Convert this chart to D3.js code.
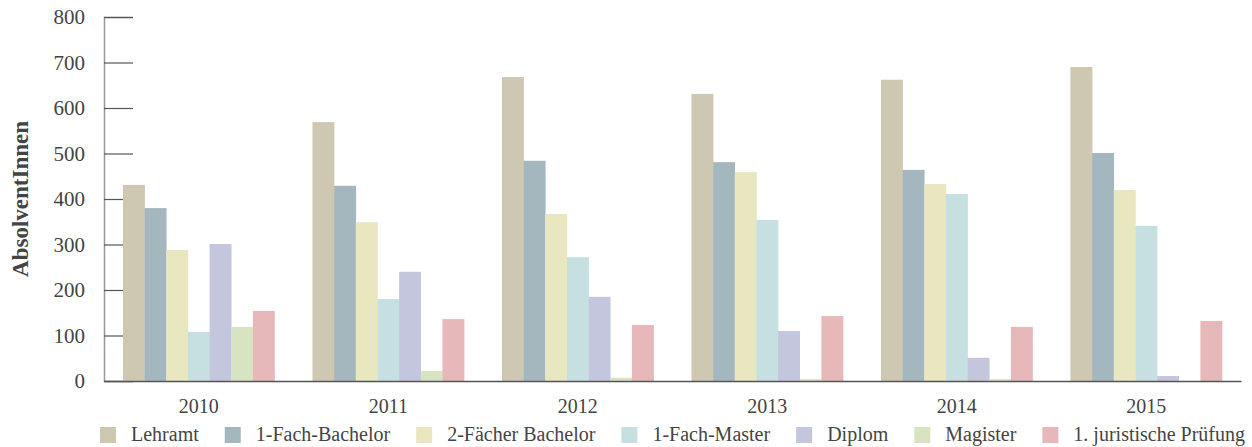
<!DOCTYPE html>
<html>
<head>
<meta charset="utf-8">
<script src="https://cdn.jsdelivr.net/npm/d3@7"></script>
<style>
  body { margin: 0; background: #fff; }
  svg { display: block; font-family: "Liberation Serif", "DejaVu Serif", serif; }
</style>
</head>
<body>
<script>
var width = 1252;
var height = 447;

var years = ['2010', '2011', '2012', '2013', '2014', '2015'];
var seriesNames = ['Lehramt', '1-Fach-Bachelor', '2-Fächer Bachelor', '1-Fach-Master', 'Diplom', 'Magister', '1. juristische Prüfung'];
var seriesColors = ['#cec8b2', '#a4b7be', '#e9e7bf', '#c6e0e2', '#c4c6dd', '#d8e3c1', '#e6b8b9'];

var lehramt = [431, 569, 668, 631, 662, 690];
var fachBachelor = [380, 429, 484, 481, 464, 501];
var faecherBachelor = [288, 349, 367, 459, 433, 420];
var fachMaster = [108, 180, 272, 354, 411, 341];
var diplom = [301, 240, 185, 110, 51, 11];
var magister = [119, 22, 7, 4, 4, 0];
var juristisch = [154, 136, 123, 143, 119, 132];

var yTicks = [0, 100, 200, 300, 400, 500, 600, 700, 800];

var seriesValues = [lehramt, fachBachelor, faecherBachelor, fachMaster, diplom, magister, juristisch];

var margin = { top: 17, right: 11, bottom: 66, left: 104 };

var svg = d3.select('body').append('svg')
  .attr('width', width)
  .attr('height', height);

var x0 = d3.scaleBand()
  .domain(years)
  .range([margin.left, width - margin.right])
  .paddingInner(0.2)
  .paddingOuter(0.1);

var x1 = d3.scaleBand()
  .domain(seriesNames)
  .range([0, x0.bandwidth()]);

var y = d3.scaleLinear()
  .domain([0, 800])
  .range([height - margin.bottom, margin.top]);

// y axis: short inward ticks, labels to the left
var yAxis = svg.append('g')
  .attr('transform', 'translate(' + margin.left + ',0)')
  .call(d3.axisLeft(y).tickValues(yTicks).tickSize(-29).tickPadding(19));
yAxis.select('.domain').attr('stroke', '#999').attr('stroke-width', 1.5);
yAxis.selectAll('.tick line').attr('stroke', '#555').attr('stroke-width', 1.2);
yAxis.selectAll('.tick text')
  .attr('fill', '#444')
  .style('font-size', '21px')
  .style('font-family', '"Liberation Serif", serif');

svg.append('text')
  .attr('transform', 'translate(28,' + ((margin.top + height - margin.bottom) / 2) + ') rotate(-90)')
  .attr('text-anchor', 'middle')
  .attr('fill', '#444')
  .style('font-size', '23px')
  .style('font-weight', 'bold')
  .text('AbsolventInnen');

// bars
var groups = svg.append('g').selectAll('g')
  .data(years)
  .enter().append('g')
  .attr('transform', function(d) { return 'translate(' + x0(d) + ',0)'; });

groups.selectAll('rect')
  .data(function(d, i) {
    return seriesNames.map(function(s, k) { return { key: s, value: seriesValues[k][i], color: seriesColors[k] }; });
  })
  .enter().append('rect')
  .attr('x', function(d) { return x1(d.key); })
  .attr('y', function(d) { return y(d.value); })
  .attr('width', x1.bandwidth() + 0.3)
  .attr('height', function(d) { return y(0) - y(d.value); })
  .attr('fill', function(d) { return d.color; });

// x axis
var xAxis = svg.append('g')
  .attr('transform', 'translate(0,' + y(0) + ')')
  .call(d3.axisBottom(x0).tickSize(0).tickPadding(18));
xAxis.select('.domain').attr('stroke', '#555').attr('stroke-width', 1.5);
xAxis.selectAll('.tick text')
  .attr('fill', '#444')
  .style('font-size', '20px')
  .style('font-family', '"Liberation Serif", serif');

// legend
var legend = svg.append('g').attr('transform', 'translate(0,427)');
var cursor = 100;
seriesNames.forEach(function(name, k) {
  var item = legend.append('g').attr('transform', 'translate(' + cursor + ',0)');
  item.append('rect')
    .attr('width', 16)
    .attr('height', 16)
    .attr('fill', seriesColors[k]);
  var t = item.append('text')
    .attr('x', 31)
    .attr('y', 14)
    .attr('fill', '#444')
    .style('font-size', '20px')
    .text(name);
  cursor += 31 + t.node().getComputedTextLength() + 26;
});
</script>
</body>
</html>
